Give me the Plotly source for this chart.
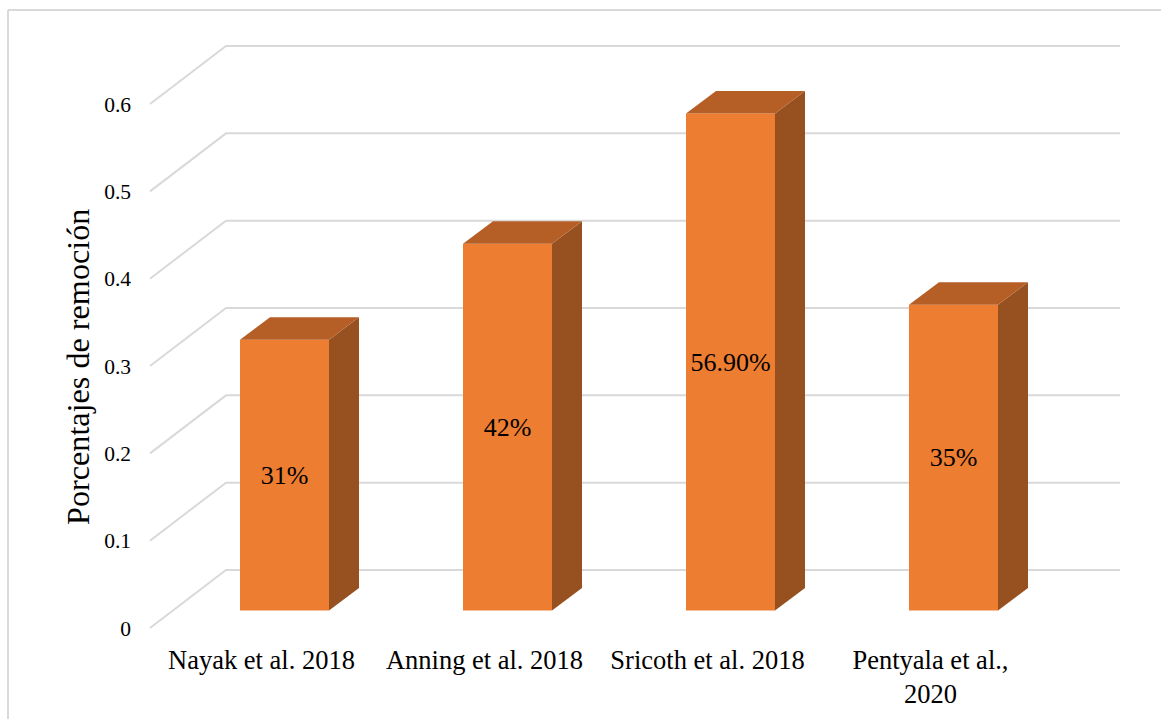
"""Excel-style 3D column chart of removal percentages, drawn on flat Plotly axes."""

import plotly.graph_objects as go

categories = ["Nayak et al. 2018", "Anning et al. 2018", "Sricoth et al. 2018", "Pentyala et al.,<br>2020"]
removal = [0.31, 0.42, 0.569, 0.35]
bar_labels = ["31%", "42%", "56.90%", "35%"]
y_ticks = [0, 0.1, 0.2, 0.3, 0.4, 0.5, 0.6]

FONT = "Liberation Serif"
GRID = "#d9d9d9"
FRONT = "#ed7d31"
TOP = "#b55e25"
SIDE = "#97501f"

WIDTH, HEIGHT = 1161, 719
PX_PER_CAT = 223.0
PX_PER_UNIT = 873.3
ORIGIN_X, ORIGIN_Y = 150.0, 628.0  # pixel position of the front-left axis corner

# plot area in pixels, a bit larger than the box so edge lines are not clipped
LEFT, RIGHT, TOP_PX, BOTTOM = 140, 1130, 36, 640

# 3D offsets, in axis units
WALL_DX, WALL_DY = 76 / PX_PER_CAT, 58 / PX_PER_UNIT
BAR_SHIFT, BAR_FLOOR = 23 / PX_PER_CAT, 17.5 / PX_PER_UNIT
BAR_WIDTH = 89 / PX_PER_CAT
DEPTH_X, DEPTH_Y = 30 / PX_PER_CAT, 22.5 / PX_PER_UNIT
GRID_END = (1120 - ORIGIN_X) / PX_PER_CAT

x_range = [(LEFT - ORIGIN_X) / PX_PER_CAT, (RIGHT - ORIGIN_X) / PX_PER_CAT]
y_range = [(ORIGIN_Y - BOTTOM) / PX_PER_UNIT, (ORIGIN_Y - TOP_PX) / PX_PER_UNIT]

centers = [i + 0.5 for i in range(len(categories))]
bar_x = [c + BAR_SHIFT for c in centers]


def paper_x(px):
    return (px - LEFT) / (RIGHT - LEFT)


def paper_y(px):
    return (BOTTOM - px) / (BOTTOM - TOP_PX)


fig = go.Figure()

fig.add_trace(
    go.Bar(
        x=bar_x,
        y=removal,
        base=BAR_FLOOR,
        width=BAR_WIDTH,
        marker=dict(color=FRONT, line=dict(width=0)),
        text=bar_labels,
        textposition="inside",
        insidetextanchor="middle",
        textangle=0,
        textfont=dict(family=FONT, size=26, color="black"),
        showlegend=False,
    )
)

# side and top faces of each column
for x, value in zip(bar_x, removal):
    right = x + BAR_WIDTH / 2
    left = x - BAR_WIDTH / 2
    top = BAR_FLOOR + value
    fig.add_trace(
        go.Scatter(
            x=[right, right + DEPTH_X, right + DEPTH_X, right, right],
            y=[BAR_FLOOR, BAR_FLOOR + DEPTH_Y, top + DEPTH_Y, top, BAR_FLOOR],
            mode="lines",
            fill="toself",
            fillcolor=SIDE,
            line=dict(width=0),
            showlegend=False,
            hoverinfo="skip",
        )
    )
    fig.add_trace(
        go.Scatter(
            x=[left, right, right + DEPTH_X, left + DEPTH_X, left],
            y=[top, top, top + DEPTH_Y, top + DEPTH_Y, top],
            mode="lines",
            fill="toself",
            fillcolor=TOP,
            line=dict(width=0),
            showlegend=False,
            hoverinfo="skip",
        )
    )

# floor and back wall gridlines
shapes = [
    dict(
        type="path",
        xref="x",
        yref="y",
        layer="below",
        path=f"M 0 {v} L {WALL_DX} {v + WALL_DY} L {GRID_END} {v + WALL_DY}",
        line=dict(color=GRID, width=2),
    )
    for v in y_ticks
]

# outer chart frame, open towards the right and bottom of the page
for x0, y0, x1, y1 in [(8, 10, WIDTH, 10), (8, 10, 8, HEIGHT)]:
    shapes.append(
        dict(
            type="line",
            xref="paper",
            yref="paper",
            x0=paper_x(x0),
            y0=paper_y(y0),
            x1=paper_x(x1),
            y1=paper_y(y1),
            line=dict(color=GRID, width=2),
        )
    )

fig.update_layout(
    width=WIDTH,
    height=HEIGHT,
    margin=dict(l=LEFT, r=WIDTH - RIGHT, t=TOP_PX, b=HEIGHT - BOTTOM),
    paper_bgcolor="white",
    plot_bgcolor="white",
    font=dict(family=FONT, color="black"),
    shapes=shapes,
    xaxis=dict(
        range=x_range,
        automargin=False,
        tickmode="array",
        tickvals=centers,
        ticktext=categories,
        showgrid=False,
        zeroline=False,
        showline=False,
        ticks="",
        ticklabelstandoff=1,
        tickangle=0,
        tickfont=dict(size=26.5),
    ),
    yaxis=dict(
        range=y_range,
        automargin=False,
        tickmode="array",
        tickvals=y_ticks,
        ticktext=[str(v) for v in y_ticks],
        showgrid=False,
        zeroline=False,
        showline=False,
        ticks="",
        ticklabelstandoff=8,
        tickfont=dict(size=21.5),
    ),
    annotations=[
        dict(
            text="Porcentajes de remoción",
            xref="paper",
            yref="paper",
            x=paper_x(78),
            y=paper_y(367),
            xanchor="center",
            yanchor="middle",
            textangle=-90,
            showarrow=False,
            font=dict(size=32.2),
        )
    ],
)

# drop the browser's default page margin so the figure fills the window exactly
fig.write_html(
    "out.html",
    config=dict(displayModeBar=False),
    post_script="document.body.style.margin = '0';",
)
